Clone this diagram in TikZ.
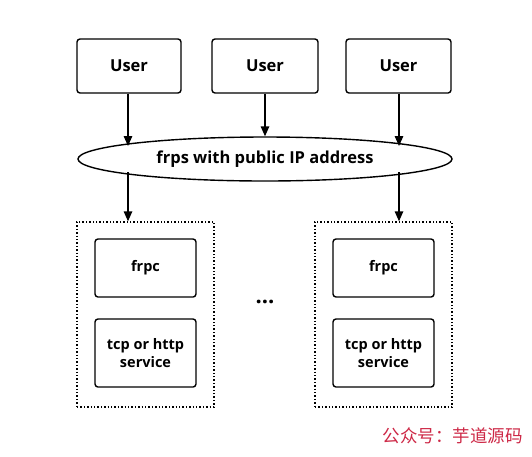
\documentclass[tikz,border=0pt]{standalone}
\usepackage{fontspec}
\setmainfont{Open Sans}
\newfontfamily\cjk{Noto Sans CJK SC}
\usetikzlibrary{arrows.meta,shapes.geometric}
\definecolor{wmred}{RGB}{205,40,70}
\begin{document}
\begin{tikzpicture}[x=1pt,y=-1pt,
  box/.style={draw,line width=1.4pt,rounded corners=3pt,font=\bfseries\fontsize{16.5}{18}\selectfont,align=center},
  sbox/.style={draw,line width=1.4pt,rounded corners=3pt,font=\bfseries\fontsize{14.5}{18}\selectfont,align=center,minimum width=101pt},
  grp/.style={draw,dotted,line width=1.4pt},
  arr/.style={line width=1.4pt,-{Triangle[length=10pt,width=8.5pt]}}]
\useasboundingbox (0,0) rectangle (532,456);
\node[box,minimum width=104pt,minimum height=54pt] (u1) at (129,66) {User};
\node[box,minimum width=106pt,minimum height=54pt] (u2) at (265,66) {User};
\node[box,minimum width=105pt,minimum height=54pt] (u3) at (398.5,66) {User};
\node[draw,ellipse,line width=1.4pt,minimum width=374pt,minimum height=44pt,inner sep=0pt,font=\bfseries\fontsize{16.5}{18}\selectfont] (fs) at (265,159) {frps with public IP address};
\node[grp,minimum width=137pt,minimum height=185pt] (g1) at (145.5,314.5) {};
\node[grp,minimum width=137pt,minimum height=185pt] (g2) at (383.5,314.5) {};
\node[sbox,minimum height=58pt] (c1) at (145.5,268) {frpc};
\node[sbox,minimum height=68pt] (s1) at (145.5,353) {tcp or http\\service};
\node[sbox,minimum height=58pt] (c2) at (383.5,268) {frpc};
\node[sbox,minimum height=68pt] (s2) at (383.5,353) {tcp or http\\service};
\node[font=\bfseries\fontsize{22}{24}\selectfont] (dots) at (265,302) {...};
\coordinate (e1) at (128,146);
\coordinate (e3) at (399,146);
\draw[arr] (u1.south -| e1) -- (e1);
\draw[arr] (u2.south) -- (fs.north);
\draw[arr] (u3.south -| e3) -- (e3);
\coordinate (b1) at (128,172);
\coordinate (b3) at (399,172);
\draw[arr] (b1) -- (b1 |- g1.north);
\draw[arr] (b3) -- (b3 |- g2.north);
\node[text=wmred,font=\cjk\fontsize{17.5}{19}\selectfont,anchor=west] (wm) at (379,436) {公众号：芋道源码};
\end{tikzpicture}
\end{document}
